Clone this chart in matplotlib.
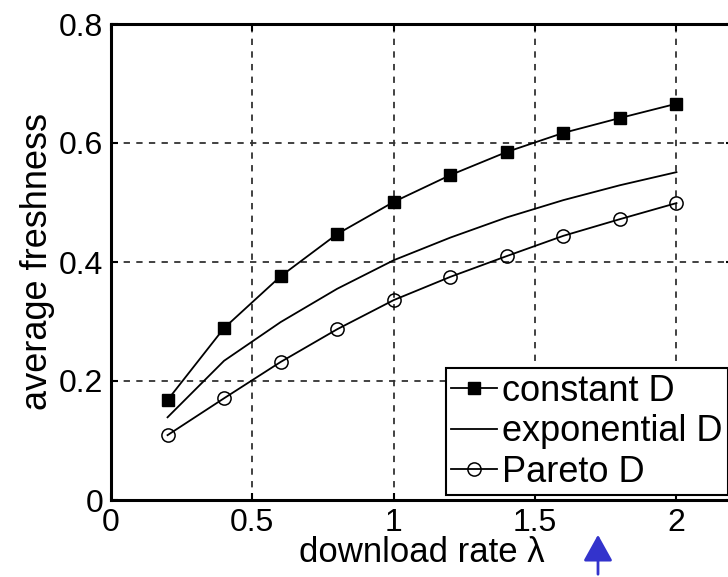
import numpy as np
import matplotlib
matplotlib.use("Agg")
import matplotlib.pyplot as plt

plt.rcParams['font.family'] = ['Liberation Sans', 'DejaVu Sans']

rate = [0.2, 0.4, 0.6, 0.8, 1.0, 1.2, 1.4, 1.6, 1.8, 2.0]
constant_d = [0.168, 0.289, 0.376, 0.447, 0.501, 0.546, 0.585, 0.617, 0.642, 0.666]
exponential_d = [0.139, 0.234, 0.299, 0.355, 0.403, 0.441, 0.475, 0.504, 0.529, 0.551]
pareto_d = [0.109, 0.171, 0.232, 0.287, 0.336, 0.375, 0.410, 0.444, 0.472, 0.499]
xticks = [0, 0.5, 1, 1.5, 2]
yticks = [0, 0.2, 0.4, 0.6, 0.8]

W, H = 728, 577
fig = plt.figure(figsize=(W / 100, H / 100), dpi=100)
# axes box in pixels: left 111, right ~733 (cut off), top 24, bottom 500
ax = fig.add_axes([111 / W, 1 - 500 / H, (733 - 111) / W, (500 - 24) / H])

ax.plot(rate, constant_d, '-s', color='k', lw=1.3, ms=8.5, mfc='k', label='constant D')
ax.plot(rate, exponential_d, '-', color='k', lw=1.3, label='exponential D')
ax.plot(rate, pareto_d, '-o', color='k', lw=1.3, ms=9.5, mfc='none', mew=1.1, label='Pareto D')

ax.set_xlim(0, 2.2)
ax.set_ylim(0, 0.8)
ax.set_xticks(xticks)
ax.set_xticklabels(['0', '0.5', '1', '1.5', '2'])
ax.set_yticks(yticks)
ax.set_yticklabels(['0', '0.2', '0.4', '0.6', '0.8'])
ax.grid(True, color='0.2', linestyle=(0, (3.5, 3.5)), lw=1.3)
ax.tick_params(direction='in', length=5, width=1.5, labelsize=23,
               top=True, right=True, colors='k')
ax.tick_params(axis='y', pad=5.5)
ax.tick_params(axis='x', pad=6)
for s in ax.spines.values():
    s.set_linewidth(2.2)

ax.set_xlabel('download rate λ', fontsize=25)
ax.xaxis.set_label_coords(0.5, -0.076)
ax.set_ylabel('average freshness', fontsize=26, labelpad=3)

leg = ax.legend(loc='lower left', bbox_to_anchor=(446 / W, 1 - 495 / H),
                bbox_transform=fig.transFigure, fontsize=26, handlelength=1.25,
                handletextpad=0.15, borderpad=0.15, labelspacing=0.15,
                borderaxespad=0, fancybox=False, framealpha=1)
leg.get_frame().set_edgecolor('k')
leg.get_frame().set_linewidth(1.5)

# blue arrow annotation at the bottom
fig.patches.append(matplotlib.patches.FancyArrowPatch(
    (598 / W, 0.0), (598 / W, 1 - 532 / H), transform=fig.transFigure,
    arrowstyle='-|>,head_length=0.9,head_width=0.5', mutation_scale=18,
    color='#3333cc', lw=2))

fig.savefig('out.png', dpi=100)
